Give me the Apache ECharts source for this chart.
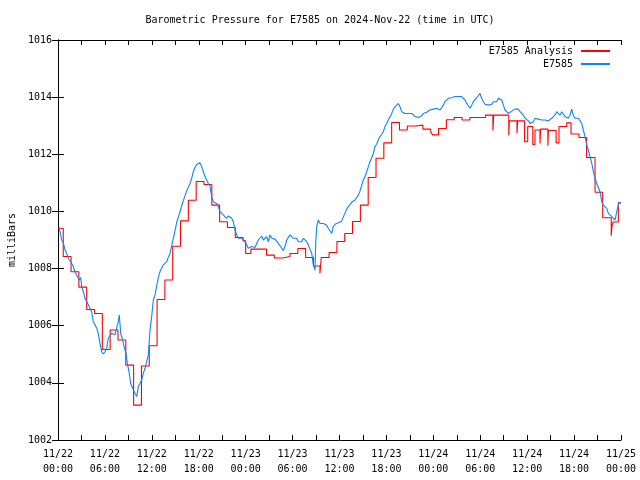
<!DOCTYPE html>
<html><head><meta charset="utf-8">
<script src="https://cdn.jsdelivr.net/npm/echarts@6/dist/echarts.min.js"></script>
<style>html,body{margin:0;padding:0;background:#fff}#c{width:640px;height:480px}</style>
</head><body><div id="c"></div><script>
// Tick labels along the time axis (hours from 2024-11-22 00:00 UTC, every 6 h)
const xTickLabels = ["11/22\n00:00","11/22\n06:00","11/22\n12:00","11/22\n18:00","11/23\n00:00","11/23\n06:00","11/23\n12:00","11/23\n18:00","11/24\n00:00","11/24\n06:00","11/24\n12:00","11/24\n18:00","11/25\n00:00"];
const yMin = 1002, yMax = 1016, yStep = 2;

// E7585 Analysis: [hours since start, mb] — value holds until next change
const analysisSteps = [
[0,1009.41],[0.67,1008.42],[1.67,1007.89],[2.67,1007.35],[3.67,1006.57],[4.67,1006.43],[5.67,1005.17],[6.67,1005.85],
[7.67,1005.50],[8.67,1004.62],[9.67,1003.22],[10.67,1004.59],[11.67,1005.30],[12.67,1006.92],[13.67,1007.60],[14.67,1008.78],
[15.67,1009.67],[16.67,1010.39],[17.67,1011.05],[18.67,1010.94],[19.67,1010.22],[20.67,1009.64],[21.67,1009.44],[22.67,1009.09],
[23.67,1008.97],[24.0,1008.53],[24.67,1008.68],[25.67,1008.68],[26.67,1008.47],[27.67,1008.37],[28.67,1008.42],[29.67,1008.53],
[30.67,1008.70],[31.67,1008.39],[32.67,1008.09],[33.5,1007.83],[33.67,1008.39],[34.67,1008.56],[35.67,1008.95],[36.67,1009.23],
[37.67,1009.65],[38.67,1010.22],[39.67,1011.19],[40.67,1011.86],[41.67,1012.40],[42.67,1013.11],[43.67,1012.85],[44.67,1012.99],
[45.67,1013.02],[46.67,1012.88],[47.67,1012.78],[47.9,1012.68],[48.67,1012.90],[49.67,1013.21],[50.67,1013.29],[51.67,1013.20],
[52.67,1013.29],[54.67,1013.37],[55.62,1012.83],[55.72,1013.37],[57.65,1012.66],[57.72,1013.17],[58.7,1012.73],[58.78,1013.17],
[59.67,1012.44],[60.07,1012.97],[60.72,1012.34],[61.0,1012.85],[61.64,1012.38],[61.72,1012.88],[62.65,1012.30],[62.72,1012.83],
[63.7,1012.40],[64.07,1012.97],[65.06,1013.10],[65.61,1012.71],[66.63,1012.59],[67.6,1011.89],[68.68,1010.67],[69.66,1009.78],
[70.75,1009.15],[70.85,1009.50],[71.0,1009.63],[71.66,1010.30],[72,1010.30]
];

// E7585 station observations: [hours since start, mb]
const stationObs = [
[0.13,1009.43],[0.26,1009.29],[0.47,1009.00],[0.68,1008.91],[0.90,1008.65],[1.11,1008.53],[1.32,1008.36],[1.53,1008.30],
[1.75,1008.18],[1.96,1008.07],[2.17,1007.89],[2.39,1007.77],[2.72,1007.60],[2.90,1007.69],[3.03,1007.37],[3.24,1007.19],
[3.45,1006.96],[3.67,1006.90],[3.88,1006.73],[4.09,1006.61],[4.31,1006.49],[4.51,1006.14],[4.73,1006.03],[4.95,1005.91],
[5.15,1005.73],[5.37,1005.38],[5.59,1005.09],[5.79,1005.01],[6.01,1005.09],[6.23,1005.21],[6.43,1005.56],[6.65,1005.62],
[6.87,1005.73],[7.07,1005.79],[7.29,1005.68],[7.51,1005.62],[7.71,1006.14],[7.84,1006.37],[8.02,1005.73],[8.27,1005.50],
[8.44,1005.27],[8.70,1005.03],[8.86,1004.68],[9.08,1004.39],[9.30,1003.98],[9.55,1003.81],[9.85,1003.63],[10.07,1003.52],
[10.27,1003.87],[10.49,1003.93],[10.70,1004.10],[10.91,1004.33],[11.13,1004.51],[11.34,1004.57],[11.55,1004.98],[11.68,1005.50],
[11.77,1005.85],[11.98,1006.32],[12.19,1006.90],[12.41,1007.08],[12.62,1007.40],[12.83,1007.68],[13.05,1007.90],[13.47,1008.13],
[13.68,1008.10],[13.90,1008.24],[14.11,1008.40],[14.32,1008.53],[14.54,1008.80],[14.75,1009.06],[14.96,1009.32],[15.18,1009.62],
[15.39,1009.80],[15.60,1009.98],[15.82,1010.20],[16.03,1010.38],[16.46,1010.72],[16.66,1010.75],[16.88,1010.98],[17.10,1011.16],
[17.30,1011.39],[17.52,1011.54],[17.74,1011.64],[17.94,1011.70],[18.16,1011.70],[18.38,1011.57],[18.58,1011.39],[18.80,1011.22],
[19.02,1011.10],[19.22,1010.98],[19.44,1010.87],[19.66,1010.52],[19.86,1010.34],[20.08,1010.31],[20.30,1010.28],[20.50,1010.17],
[20.72,1009.99],[21.14,1009.88],[21.36,1009.82],[21.58,1009.76],[21.78,1009.84],[22.00,1009.82],[22.22,1009.76],[22.42,1009.64],
[22.64,1009.35],[22.85,1009.18],[23.06,1009.06],[23.28,1009.09],[23.49,1009.06],[23.70,1009.00],[23.92,1008.94],[24.13,1008.83],
[24.34,1008.71],[24.56,1008.74],[24.77,1008.77],[24.98,1008.74],[25.19,1008.74],[25.41,1008.77],[25.62,1009.00],[25.83,1009.06],
[26.05,1009.14],[26.26,1009.00],[26.47,1009.06],[26.69,1009.12],[26.90,1008.94],[27.11,1009.18],[27.33,1009.06],[27.54,1009.00],
[27.75,1009.03],[27.97,1009.00],[28.18,1008.88],[28.39,1008.83],[28.61,1008.71],[28.81,1008.63],[29.03,1008.77],[29.25,1009.00],
[29.45,1009.06],[29.67,1009.18],[29.89,1009.12],[30.09,1009.06],[30.31,1009.03],[30.53,1009.06],[30.73,1008.94],[30.95,1008.88],
[31.17,1008.94],[31.37,1009.06],[31.59,1009.03],[31.81,1008.94],[32.01,1008.83],[32.23,1008.77],[32.45,1008.53],[32.65,1008.13],
[32.87,1007.95],[32.96,1008.90],[33.09,1009.47],[33.29,1009.70],[33.51,1009.58],[33.73,1009.64],[33.93,1009.58],[34.15,1009.58],
[34.37,1009.52],[34.57,1009.41],[34.79,1009.35],[35.00,1009.23],[35.21,1009.47],[35.43,1009.55],[35.65,1009.58],[35.85,1009.60],
[36.07,1009.64],[36.28,1009.66],[36.49,1009.70],[36.71,1009.95],[36.92,1010.08],[37.13,1010.17],[37.34,1010.24],[37.56,1010.32],
[37.77,1010.34],[37.98,1010.40],[38.20,1010.46],[38.41,1010.57],[38.62,1010.71],[38.84,1010.92],[39.05,1011.10],[39.26,1011.22],
[39.48,1011.39],[39.69,1011.57],[39.90,1011.74],[40.12,1011.88],[40.33,1012.03],[40.54,1012.27],[40.76,1012.35],[40.96,1012.50],
[41.18,1012.62],[41.40,1012.70],[41.60,1012.79],[41.82,1012.97],[42.04,1013.08],[42.24,1013.20],[42.46,1013.26],[42.68,1013.43],
[42.88,1013.58],[43.10,1013.66],[43.32,1013.72],[43.52,1013.78],[43.74,1013.66],[43.96,1013.49],[44.16,1013.43],[44.38,1013.43],
[44.80,1013.43],[45.24,1013.43],[45.44,1013.37],[45.66,1013.32],[45.88,1013.26],[46.08,1013.29],[46.30,1013.32],[46.52,1013.35],
[46.72,1013.43],[46.93,1013.49],[47.15,1013.47],[47.36,1013.51],[47.58,1013.55],[47.79,1013.61],[48.00,1013.58],[48.22,1013.51],
[48.43,1013.61],[48.64,1013.55],[48.86,1013.55],[49.07,1013.61],[49.28,1013.72],[49.49,1013.84],[49.71,1013.90],[49.92,1013.96],
[50.13,1014.02],[50.35,1013.98],[50.56,1013.98],[50.77,1014.02],[50.99,1013.98],[51.20,1014.02],[51.41,1013.98],[51.63,1014.02],
[51.84,1013.96],[52.05,1013.90],[52.27,1013.78],[52.47,1013.70],[52.69,1013.61],[52.91,1013.72],[53.11,1013.84],[53.33,1013.90],
[53.55,1013.98],[53.75,1014.02],[53.97,1014.13],[54.18,1013.96],[54.40,1013.84],[54.62,1013.75],[55.03,1013.72],[55.25,1013.66],
[55.47,1013.75],[55.67,1013.84],[55.89,1013.78],[56.11,1013.84],[56.31,1013.96],[56.53,1014.02],[56.75,1013.90],[56.96,1013.72],
[57.17,1013.55],[57.39,1013.49],[57.59,1013.43],[57.81,1013.49],[58.03,1013.51],[58.23,1013.55],[58.45,1013.58],[58.67,1013.61],
[58.87,1013.58],[59.09,1013.49],[59.31,1013.43],[59.51,1013.37],[59.73,1013.26],[59.94,1013.26],[60.15,1013.17],[60.37,1013.08],
[60.58,1013.03],[60.79,1013.14],[61.01,1013.26],[61.22,1013.20],[61.43,1013.23],[61.64,1013.20],[61.86,1013.20],[62.07,1013.26],
[62.28,1013.20],[62.50,1013.23],[62.71,1013.17],[62.92,1013.20],[63.14,1013.26],[63.34,1013.32],[63.56,1013.37],[63.78,1013.49],
[63.98,1013.43],[64.20,1013.37],[64.42,1013.49],[64.62,1013.49],[64.84,1013.32],[65.06,1013.26],[65.26,1013.26],[65.48,1013.37],
[65.70,1013.58],[65.90,1013.37],[66.12,1013.26],[66.34,1013.32],[66.54,1013.26],[66.76,1013.26],[66.98,1013.08],[67.18,1012.85],
[67.40,1012.62],[67.62,1012.33],[67.82,1012.15],[68.04,1011.92],[68.26,1011.69],[68.46,1011.39],[68.68,1011.16],[68.90,1010.98],
[69.10,1010.92],[69.32,1010.69],[69.54,1010.34],[69.74,1010.22],[69.96,1010.28],[70.18,1010.11],[70.38,1009.93],[70.60,1009.99],
[70.82,1009.82],[71.03,1009.76],[71.24,1009.70],[71.45,1009.99],[71.66,1010.05],[71.75,1010.32],[71.99,1010.28]
];

const FONT = 'DejaVu Sans Mono';
const chart = echarts.init(document.getElementById('c'), null, {renderer: 'canvas'});
const axisCommon = {
  axisLine: {show: true, lineStyle: {color: '#000', width: 1}},
  splitLine: {show: false}
};
const legendCommon = {
  right: 30, align: 'right', orient: 'horizontal', padding: 0, itemWidth: 29, itemHeight: 2, icon: 'rect',
  textStyle: {fontFamily: FONT, fontSize: 10, color: '#000', padding: [0, 3, 0, 0]}
};
chart.setOption({
  animation: false,
  backgroundColor: '#fff',
  title: {
    text: 'Barometric Pressure for E7585 on 2024-Nov-22 (time in UTC)',
    left: 'center', top: 10,
    textStyle: {fontFamily: FONT, fontSize: 10, fontWeight: 'normal', color: '#000'}
  },
  legend: [
    Object.assign({}, legendCommon, {data: ['E7585 Analysis'], top: 46}),
    Object.assign({}, legendCommon, {data: ['E7585'], top: 59})
  ],
  grid: {left: 58, right: 19, top: 40, bottom: 40, containLabel: false, outerBoundsMode: 'none'},
  xAxis: [
    Object.assign({}, axisCommon, {
      type: 'value', min: 0, max: 72, interval: 6, position: 'bottom',
      axisTick: {show: true, inside: true, length: 5, lineStyle: {color: '#000'}},
      minorTick: {show: true, splitNumber: 2, length: 5, lineStyle: {color: '#000'}},
      axisLabel: {show: true, margin: 7, lineHeight: 15, fontFamily: FONT, fontSize: 10, color: '#000',
        formatter: v => xTickLabels[Math.round(v / 6)]}
    }),
    Object.assign({}, axisCommon, {
      type: 'value', min: 0, max: 72, interval: 6, position: 'top',
      axisTick: {show: true, inside: true, length: 5, lineStyle: {color: '#000'}},
      minorTick: {show: true, splitNumber: 2, length: 5, lineStyle: {color: '#000'}},
      axisLabel: {show: false}
    })
  ],
  yAxis: [
    Object.assign({}, axisCommon, {
      type: 'value', min: yMin, max: yMax, interval: yStep, position: 'left',
      name: 'milliBars', nameLocation: 'middle', nameGap: 41, nameRotate: 90,
      nameTextStyle: {fontFamily: FONT, fontSize: 10, color: '#000'},
      axisTick: {show: true, inside: true, length: 6, lineStyle: {color: '#000'}},
      axisLabel: {show: true, margin: 6, fontFamily: FONT, fontSize: 10, color: '#000',
        formatter: v => String(v)}
    }),
    Object.assign({}, axisCommon, {
      type: 'value', min: yMin, max: yMax, interval: yStep, position: 'right',
      axisTick: {show: true, inside: true, length: 6, lineStyle: {color: '#000'}},
      axisLabel: {show: false}
    })
  ],
  series: [
    {name: 'E7585 Analysis', type: 'line', step: 'end', data: analysisSteps, showSymbol: false,
     symbol: 'none', color: '#ff0000', lineStyle: {color: '#ff0000', width: 1.1}, z: 2},
    {name: 'E7585', type: 'line', data: stationObs, showSymbol: false,
     symbol: 'none', color: '#0a84ff', lineStyle: {color: '#0a84ff', width: 1.1}, z: 3}
  ]
});
</script></body></html>
